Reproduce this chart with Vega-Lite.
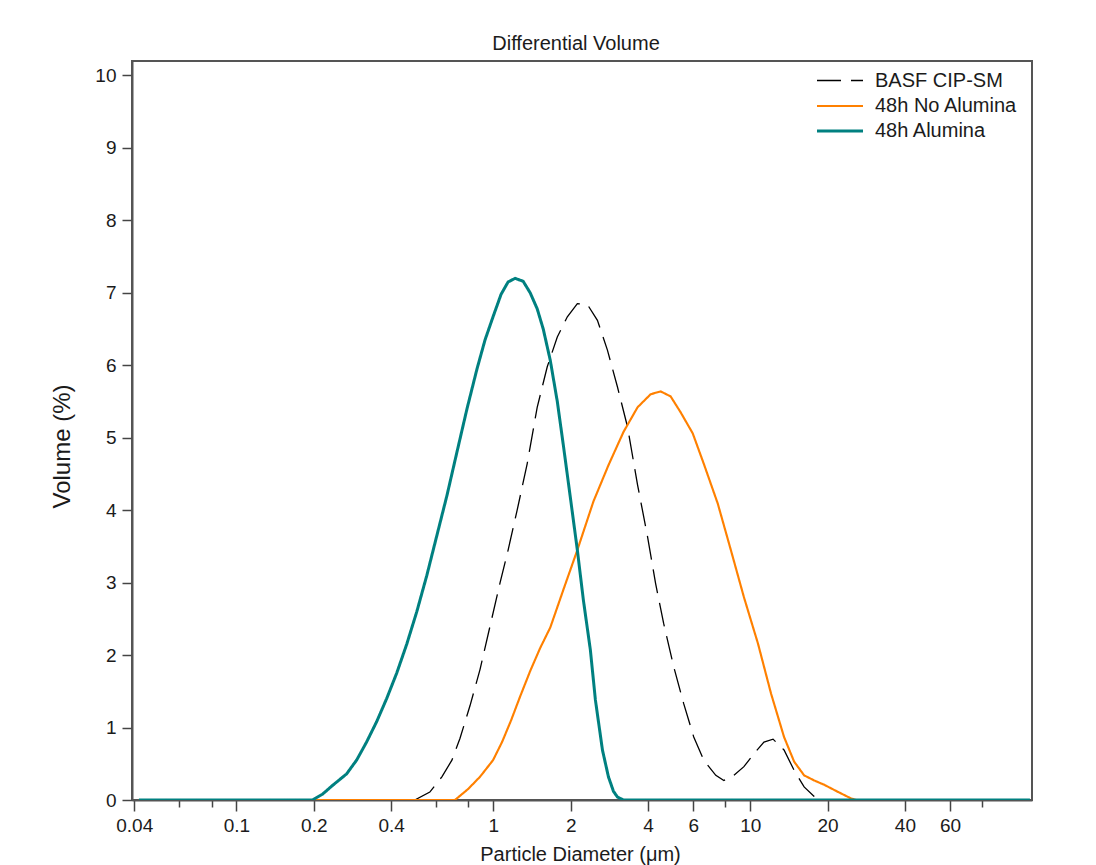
{
  "$schema": "https://vega.github.io/schema/vega-lite/v6.json",
  "width": 900,
  "height": 739,
  "autosize": {"type": "none"},
  "padding": {"left": 132, "top": 61, "right": 64, "bottom": 65},
  "background": "white",
  "title": {"text": "Differential Volume", "fontSize": 20, "font": "Liberation Sans", "fontWeight": "normal", "color": "#1b1b1b", "offset": 7, "dx": -6},
  "config": {"view": {"stroke": "#555", "strokeWidth": 2}, "font": "Liberation Sans"},
  "data": {"values": [
    {"s": "BASF CIP-SM", "d": 0.4943, "v": 0},
    {"s": "BASF CIP-SM", "d": 0.5658, "v": 0.11},
    {"s": "BASF CIP-SM", "d": 0.6304, "v": 0.32},
    {"s": "BASF CIP-SM", "d": 0.6897, "v": 0.55},
    {"s": "BASF CIP-SM", "d": 0.7412, "v": 0.85},
    {"s": "BASF CIP-SM", "d": 0.811, "v": 1.3},
    {"s": "BASF CIP-SM", "d": 0.8871, "v": 1.8},
    {"s": "BASF CIP-SM", "d": 0.9707, "v": 2.4},
    {"s": "BASF CIP-SM", "d": 1.0622, "v": 3.0},
    {"s": "BASF CIP-SM", "d": 1.1414, "v": 3.45},
    {"s": "BASF CIP-SM", "d": 1.2378, "v": 4.0},
    {"s": "BASF CIP-SM", "d": 1.3541, "v": 4.64},
    {"s": "BASF CIP-SM", "d": 1.4814, "v": 5.42},
    {"s": "BASF CIP-SM", "d": 1.6212, "v": 5.98},
    {"s": "BASF CIP-SM", "d": 1.774, "v": 6.39},
    {"s": "BASF CIP-SM", "d": 1.9409, "v": 6.67},
    {"s": "BASF CIP-SM", "d": 2.1232, "v": 6.85},
    {"s": "BASF CIP-SM", "d": 2.3227, "v": 6.84},
    {"s": "BASF CIP-SM", "d": 2.5418, "v": 6.62},
    {"s": "BASF CIP-SM", "d": 2.7803, "v": 6.21},
    {"s": "BASF CIP-SM", "d": 3.0423, "v": 5.7},
    {"s": "BASF CIP-SM", "d": 3.329, "v": 5.15},
    {"s": "BASF CIP-SM", "d": 3.642, "v": 4.35},
    {"s": "BASF CIP-SM", "d": 3.9858, "v": 3.63},
    {"s": "BASF CIP-SM", "d": 4.2808, "v": 2.99},
    {"s": "BASF CIP-SM", "d": 4.6001, "v": 2.44},
    {"s": "BASF CIP-SM", "d": 5.035, "v": 1.84},
    {"s": "BASF CIP-SM", "d": 5.5081, "v": 1.33},
    {"s": "BASF CIP-SM", "d": 6.0272, "v": 0.87},
    {"s": "BASF CIP-SM", "d": 6.5959, "v": 0.55},
    {"s": "BASF CIP-SM", "d": 7.3451, "v": 0.34},
    {"s": "BASF CIP-SM", "d": 7.8959, "v": 0.27},
    {"s": "BASF CIP-SM", "d": 8.6359, "v": 0.34},
    {"s": "BASF CIP-SM", "d": 9.4498, "v": 0.46},
    {"s": "BASF CIP-SM", "d": 10.339, "v": 0.64},
    {"s": "BASF CIP-SM", "d": 11.31, "v": 0.8},
    {"s": "BASF CIP-SM", "d": 12.27, "v": 0.84},
    {"s": "BASF CIP-SM", "d": 13.54, "v": 0.69},
    {"s": "BASF CIP-SM", "d": 14.82, "v": 0.41},
    {"s": "BASF CIP-SM", "d": 16.21, "v": 0.18},
    {"s": "BASF CIP-SM", "d": 17.74, "v": 0.05},
    {"s": "BASF CIP-SM", "d": 18.55, "v": 0},
    {"s": "48h No Alumina", "d": 0.0417, "v": 0},
    {"s": "48h No Alumina", "d": 0.7084, "v": 0},
    {"s": "48h No Alumina", "d": 0.7546, "v": 0.08},
    {"s": "48h No Alumina", "d": 0.7966, "v": 0.15},
    {"s": "48h No Alumina", "d": 0.8871, "v": 0.32},
    {"s": "48h No Alumina", "d": 0.9973, "v": 0.55},
    {"s": "48h No Alumina", "d": 1.0812, "v": 0.8},
    {"s": "48h No Alumina", "d": 1.1724, "v": 1.1},
    {"s": "48h No Alumina", "d": 1.2717, "v": 1.43},
    {"s": "48h No Alumina", "d": 1.3913, "v": 1.78},
    {"s": "48h No Alumina", "d": 1.5225, "v": 2.1},
    {"s": "48h No Alumina", "d": 1.6654, "v": 2.38},
    {"s": "48h No Alumina", "d": 1.8723, "v": 2.9},
    {"s": "48h No Alumina", "d": 2.1232, "v": 3.45},
    {"s": "48h No Alumina", "d": 2.452, "v": 4.12},
    {"s": "48h No Alumina", "d": 2.8054, "v": 4.62},
    {"s": "48h No Alumina", "d": 3.2109, "v": 5.08},
    {"s": "48h No Alumina", "d": 3.642, "v": 5.42},
    {"s": "48h No Alumina", "d": 4.0944, "v": 5.6},
    {"s": "48h No Alumina", "d": 4.4793, "v": 5.64},
    {"s": "48h No Alumina", "d": 4.9003, "v": 5.57},
    {"s": "48h No Alumina", "d": 5.3611, "v": 5.35},
    {"s": "48h No Alumina", "d": 5.9734, "v": 5.06},
    {"s": "48h No Alumina", "d": 6.5959, "v": 4.64},
    {"s": "48h No Alumina", "d": 7.4768, "v": 4.09},
    {"s": "48h No Alumina", "d": 8.4058, "v": 3.45},
    {"s": "48h No Alumina", "d": 9.4498, "v": 2.8},
    {"s": "48h No Alumina", "d": 10.717, "v": 2.16},
    {"s": "48h No Alumina", "d": 12.049, "v": 1.47},
    {"s": "48h No Alumina", "d": 13.54, "v": 0.87},
    {"s": "48h No Alumina", "d": 14.82, "v": 0.53},
    {"s": "48h No Alumina", "d": 16.21, "v": 0.34},
    {"s": "48h No Alumina", "d": 17.74, "v": 0.27},
    {"s": "48h No Alumina", "d": 19.41, "v": 0.21},
    {"s": "48h No Alumina", "d": 22.01, "v": 0.11},
    {"s": "48h No Alumina", "d": 24.74, "v": 0.02},
    {"s": "48h No Alumina", "d": 25.88, "v": 0},
    {"s": "48h Alumina", "d": 0.0417, "v": 0},
    {"s": "48h Alumina", "d": 0.1976, "v": 0},
    {"s": "48h Alumina", "d": 0.2162, "v": 0.08},
    {"s": "48h Alumina", "d": 0.2364, "v": 0.2},
    {"s": "48h Alumina", "d": 0.2683, "v": 0.36},
    {"s": "48h Alumina", "d": 0.2935, "v": 0.55},
    {"s": "48h Alumina", "d": 0.321, "v": 0.8},
    {"s": "48h Alumina", "d": 0.3512, "v": 1.08},
    {"s": "48h Alumina", "d": 0.3843, "v": 1.4},
    {"s": "48h Alumina", "d": 0.4204, "v": 1.75},
    {"s": "48h Alumina", "d": 0.46, "v": 2.15},
    {"s": "48h Alumina", "d": 0.5035, "v": 2.6},
    {"s": "48h Alumina", "d": 0.5508, "v": 3.1},
    {"s": "48h Alumina", "d": 0.6026, "v": 3.65},
    {"s": "48h Alumina", "d": 0.6594, "v": 4.2},
    {"s": "48h Alumina", "d": 0.7213, "v": 4.8},
    {"s": "48h Alumina", "d": 0.7896, "v": 5.4},
    {"s": "48h Alumina", "d": 0.8636, "v": 5.95},
    {"s": "48h Alumina", "d": 0.9281, "v": 6.35},
    {"s": "48h Alumina", "d": 0.9973, "v": 6.67},
    {"s": "48h Alumina", "d": 1.0717, "v": 6.98},
    {"s": "48h Alumina", "d": 1.1414, "v": 7.15},
    {"s": "48h Alumina", "d": 1.2157, "v": 7.2},
    {"s": "48h Alumina", "d": 1.3062, "v": 7.16},
    {"s": "48h Alumina", "d": 1.3913, "v": 7.0},
    {"s": "48h Alumina", "d": 1.4814, "v": 6.78},
    {"s": "48h Alumina", "d": 1.5641, "v": 6.5},
    {"s": "48h Alumina", "d": 1.6654, "v": 6.07},
    {"s": "48h Alumina", "d": 1.774, "v": 5.5},
    {"s": "48h Alumina", "d": 1.8723, "v": 4.9},
    {"s": "48h Alumina", "d": 1.9934, "v": 4.18},
    {"s": "48h Alumina", "d": 2.1232, "v": 3.45},
    {"s": "48h Alumina", "d": 2.241, "v": 2.76},
    {"s": "48h Alumina", "d": 2.3863, "v": 2.07},
    {"s": "48h Alumina", "d": 2.4963, "v": 1.38},
    {"s": "48h Alumina", "d": 2.659, "v": 0.69},
    {"s": "48h Alumina", "d": 2.8054, "v": 0.32},
    {"s": "48h Alumina", "d": 2.9349, "v": 0.12},
    {"s": "48h Alumina", "d": 3.0423, "v": 0.04},
    {"s": "48h Alumina", "d": 3.2109, "v": 0},
    {"s": "48h Alumina", "d": 122.7, "v": 0}
  ]},
  "encoding": {
    "x": {
      "field": "d", "type": "quantitative",
      "scale": {"type": "log", "domain": [0.0392, 125], "nice": false},
      "axis": {
        "title": "Particle Diameter (μm)",
        "values": [0.04, 0.06, 0.08, 0.1, 0.2, 0.4, 0.6, 0.8, 1, 2, 4, 6, 8, 10, 20, 40, 60, 80],
        "labelExpr": "indexof([0.06, 0.08, 0.6, 0.8, 8, 80], datum.value) >= 0 ? '' : format(datum.value, '~g')",
        "tickSize": {"condition": {"test": "indexof([0.06, 0.08, 0.6, 0.8, 8, 80], datum.value) >= 0", "value": 7}, "value": 11},
        "labelOverlap": false,
        "labelFlush": false,
        "labelPadding": 5,
        "labelFontSize": 19,
        "labelColor": "#1b1b1b",
        "labelFont": "Liberation Sans",
        "titleFont": "Liberation Sans",
        "titleFontSize": 20,
        "titleFontWeight": "normal",
        "titleColor": "#1b1b1b",
        "titlePadding": 9,
        "titleX": 448,
        "grid": false,
        "domainColor": "#555",
        "domainWidth": 2,
        "tickColor": "#444",
        "tickWidth": 1.5
      }
    },
    "y": {
      "field": "v", "type": "quantitative",
      "scale": {"domain": [0, 10.2], "nice": false},
      "axis": {
        "title": "Volume (%)",
        "values": [0, 1, 2, 3, 4, 5, 6, 7, 8, 9, 10],
        "tickSize": 10,
        "labelPadding": 6,
        "labelFontSize": 19,
        "labelColor": "#1b1b1b",
        "labelFont": "Liberation Sans",
        "titleFont": "Liberation Sans",
        "titleFontSize": 24,
        "titleFontWeight": "normal",
        "titleColor": "#1b1b1b",
        "titlePadding": 20,
        "titleY": 385,
        "grid": false,
        "domainColor": "#555",
        "domainWidth": 2,
        "tickColor": "#444",
        "tickWidth": 1.5
      }
    },
    "color": {
      "field": "s", "type": "nominal",
      "scale": {"domain": ["BASF CIP-SM", "48h No Alumina", "48h Alumina"], "range": ["#000000", "#FF8000", "#008080"]},
      "legend": {"orient": "none", "legendX": 695, "legendY": 7, "title": null, "symbolType": "M-2,0L2,0", "symbolSize": 529, "labelFontSize": 20, "labelFont": "Liberation Sans", "labelColor": "#1b1b1b", "labelOffset": 22, "rowPadding": 2, "padding": 0}
    },
    "strokeDash": {
      "field": "s", "type": "nominal",
      "scale": {"domain": ["BASF CIP-SM", "48h No Alumina", "48h Alumina"], "range": [[24, 10], [1, 0], [1, 0]]},
      "legend": {"orient": "none", "legendX": 695, "legendY": 7, "title": null, "symbolType": "M-2,0L2,0", "symbolSize": 529, "labelFontSize": 20, "labelFont": "Liberation Sans", "labelColor": "#1b1b1b", "labelOffset": 22, "rowPadding": 2, "padding": 0}
    },
    "strokeWidth": {
      "field": "s", "type": "nominal",
      "scale": {"domain": ["BASF CIP-SM", "48h No Alumina", "48h Alumina"], "range": [1.3, 3, 3]},
      "legend": {"orient": "none", "legendX": 695, "legendY": 7, "title": null, "symbolType": "M-2,0L2,0", "symbolSize": 529, "labelFontSize": 20, "labelFont": "Liberation Sans", "labelColor": "#1b1b1b", "labelOffset": 22, "rowPadding": 2, "padding": 0}
    }
  },
  "layer": [
    {"transform": [{"filter": "datum.s === 'BASF CIP-SM'"}], "mark": {"type": "line", "clip": true}},
    {"transform": [{"filter": "datum.s === '48h No Alumina'"}], "mark": {"type": "line", "clip": true}},
    {"transform": [{"filter": "datum.s === '48h Alumina'"}], "mark": {"type": "line", "clip": true}}
  ]
}
